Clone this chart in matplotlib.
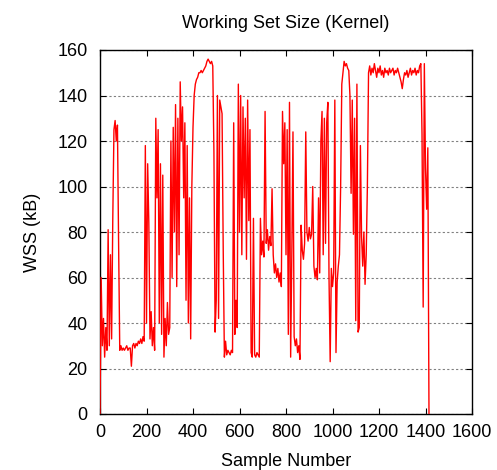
import numpy as np
import matplotlib
matplotlib.use("Agg")
import matplotlib.pyplot as plt

plt.rcParams['font.family'] = ['Liberation Sans', 'DejaVu Sans']

# WSS values (kB), one value every 5 samples
wss_0000 = [0, 60, 30, 42, 25, 38, 28, 81, 30, 70, 33, 86, 125, 129, 120, 127, 75, 28, 30, 28,
            29, 28, 29, 30, 28, 29, 29, 21, 30, 31, 29, 31, 30, 32, 31, 33, 31, 34, 32, 118]
wss_0200 = [40, 110, 84, 33, 45, 30, 38, 28, 130, 95, 125, 40, 110, 35, 105, 25, 42, 30, 49, 35,
            38, 120, 60, 126, 80, 136, 56, 130, 70, 146, 120, 135, 95, 128, 50, 118, 40, 95, 33, 100]
wss_0400 = [126, 140, 145, 147, 148, 150, 150, 151, 150, 151, 152, 153, 155, 156, 155, 154, 155, 153, 115, 36,
            50, 140, 42, 138, 135, 132, 72, 25, 32, 26, 28, 27, 26, 28, 27, 128, 35, 50, 38, 145]
wss_0600 = [80, 140, 70, 135, 95, 130, 68, 138, 85, 125, 27, 25, 86, 26, 25, 27, 26, 25, 86, 70,
            76, 69, 133, 75, 81, 72, 78, 74, 99, 70, 62, 66, 60, 64, 58, 62, 56, 133, 110, 128]
wss_0800 = [70, 125, 35, 137, 25, 70, 124, 34, 30, 33, 27, 30, 24, 83, 72, 68, 75, 124, 80, 76,
            82, 77, 79, 100, 65, 60, 64, 59, 95, 62, 120, 133, 70, 130, 75, 128, 137, 60, 23, 64]
wss_1000 = [56, 62, 138, 27, 58, 65, 70, 100, 145, 150, 155, 153, 154, 152, 151, 140, 97, 138, 79, 130,
            41, 145, 36, 38, 118, 78, 65, 80, 57, 70, 100, 150, 153, 149, 152, 150, 154, 151, 148, 152]
wss_1200 = [150, 153, 149, 151, 148, 152, 150, 151, 149, 152, 150, 151, 152, 149, 151, 150, 152, 150, 148, 146,
            143, 147, 150, 149, 151, 148, 150, 152, 149, 151, 150, 152, 149, 151, 150, 153, 154, 123, 47, 154,
            108, 90, 117, 0]

SAMPLE_STEP = 5
wss = np.array(wss_0000 + wss_0200 + wss_0400 + wss_0600 + wss_0800 + wss_1000 + wss_1200, dtype=float)
samples = np.arange(len(wss)) * SAMPLE_STEP

x_ticks = [0, 200, 400, 600, 800, 1000, 1200, 1400, 1600]
y_ticks = [0, 20, 40, 60, 80, 100, 120, 140, 160]

fig = plt.figure(figsize=(4.97, 4.70), dpi=100)
ax = fig.add_axes([100/497, 1 - 414/470, 372/497, 364/470])

ax.plot(samples, wss, color='#ff0000', lw=1.0, zorder=3)

ax.set_xlim(0, 1600)
ax.set_ylim(0, 160)
ax.set_xticks(x_ticks)
ax.set_yticks(y_ticks)
ax.tick_params(direction='in', length=4, width=0.8, top=True, right=True,
               labelsize=13, colors='black')
ax.tick_params(axis='y', pad=9)
ax.tick_params(axis='x', pad=7)
ax.yaxis.grid(True, color='#808080', linestyle=(0, (2, 2)), lw=0.8)
ax.set_axisbelow(True)
for s in ax.spines.values():
    s.set_linewidth(1.0)
    s.set_color('black')

ax.set_title('Working Set Size (Kernel)', fontsize=13, pad=16)
ax.set_xlabel('Sample Number', fontsize=13, labelpad=9)
ax.set_ylabel('WSS (kB)', fontsize=13, labelpad=12)

fig.savefig('out.png', dpi=100)
